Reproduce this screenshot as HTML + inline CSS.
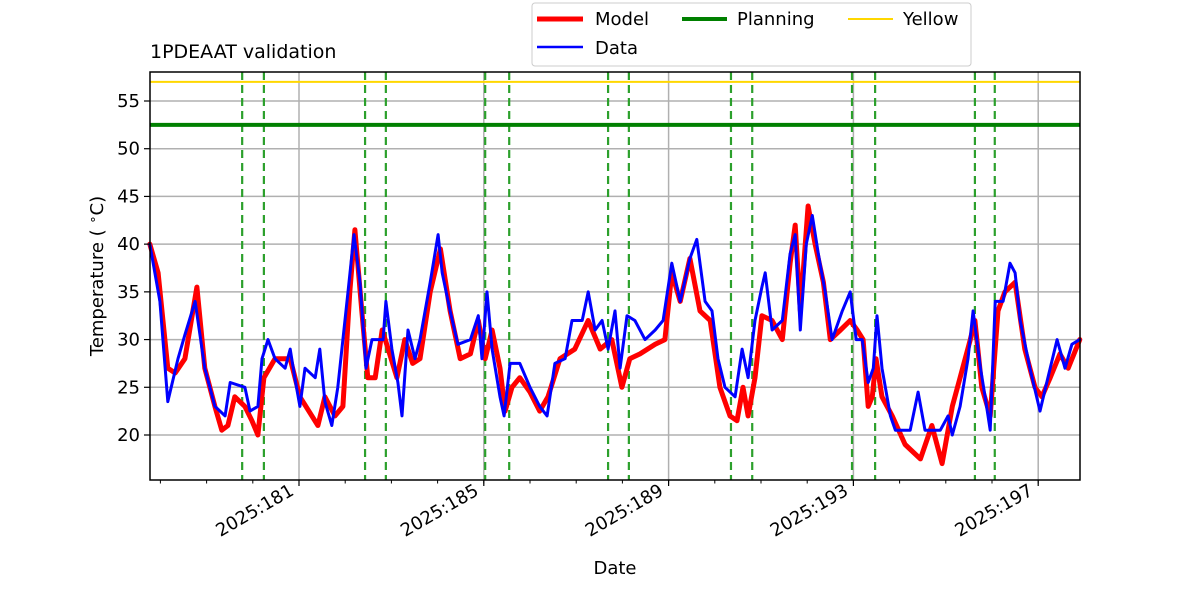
<!DOCTYPE html>
<html><head><meta charset="utf-8"><style>
body{margin:0;background:#fff;width:1200px;height:600px;overflow:hidden;font-family:"Liberation Sans",sans-serif}
svg text{font-family:"DejaVu Sans","Liberation Sans",sans-serif}
</style></head><body>
<svg id="chart" width="1200" height="600" xmlns="http://www.w3.org/2000/svg">
<g id="grid"></g>
<g id="vlines"></g>
<g id="series"></g>
<rect x="150" y="72" width="930" height="408" fill="none" stroke="#000" stroke-width="1.5"/>
<g id="axes"></g>
<text x="150" y="58" font-size="19">1PDEAAT validation</text>
<text x="615" y="574" font-size="18" text-anchor="middle">Date</text>
<text transform="translate(103,276) rotate(-90)" font-size="18" text-anchor="middle">Temperature ( <tspan dy="-6" font-size="13">∘</tspan><tspan dy="6">C)</tspan></text>
<g>
<rect x="532" y="3" width="439" height="63" rx="3" fill="#fff" stroke="#ccc"/>
<g><line x1="537" y1="19" x2="583" y2="19" stroke="red" stroke-width="5"/><text x="595" y="25" font-size="18">Model</text></g>
<g><line x1="682" y1="19" x2="727" y2="19" stroke="green" stroke-width="4"/><text x="737" y="25" font-size="18">Planning</text></g>
<g><line x1="848" y1="19" x2="893" y2="19" stroke="gold" stroke-width="2"/><text x="903" y="25" font-size="18">Yellow</text></g>
<g><line x1="537" y1="47" x2="583" y2="47" stroke="blue" stroke-width="2.5"/><text x="595" y="54" font-size="18">Data</text></g>
</g>
</svg>
<script>
const yTicks=[20,25,30,35,40,45,50,55];
const xTicks=[181,185,189,193,197];
const xTickLabels=["2025:181","2025:185","2025:189","2025:193","2025:197"];
const planningLevel=52.5;
const yellowLevel=57;
const passLines=[179.77,180.24,182.43,182.88,185.03,185.55,187.69,188.14,190.35,190.81,192.97,193.47,195.63,196.06];
const modelDays=[177.77,177.95,178.16,178.32,178.53,178.79,178.96,179.18,179.33,179.46,179.61,179.83,179.98,180.11,180.24,180.48,180.81,181.02,181.28,181.41,181.56,181.78,181.95,182.10,182.21,182.36,182.49,182.65,182.80,182.93,183.12,183.29,183.46,183.62,183.84,184.06,184.27,184.49,184.71,184.88,185.03,185.18,185.35,185.46,185.61,185.78,186.00,186.21,186.39,186.65,186.97,187.26,187.52,187.77,187.99,188.16,188.38,188.71,188.92,189.07,189.25,189.46,189.68,189.90,190.11,190.33,190.48,190.61,190.72,190.87,191.02,191.24,191.46,191.63,191.74,191.85,192.02,192.17,192.35,192.50,192.72,192.93,193.08,193.21,193.32,193.41,193.49,193.62,193.84,194.12,194.45,194.70,194.92,195.14,195.31,195.53,195.63,195.78,195.96,196.13,196.28,196.50,196.71,196.93,197.08,197.26,197.47,197.65,197.90];
const modelTemps=[40,37,27,26.5,28,35.5,27,23,20.5,21,24,23,21.5,20,26,28,28,24,22,21,24,22,23,35,41.5,33,26,26,31,29,26,30,27.5,28,35,39.5,33,28,28.5,32,28,31,27,22.5,25,26,24.5,22.5,24,28,29,32,29,30,25,28,28.5,29.5,30,37,34,38.5,33,32,25,22,21.5,25,22,26,32.5,32,30,38,42,33,44,40,36,30,31,32,31,30,23,24,28,24,22,19,17.5,21,17,23,26,30,32,25,22,33,35,36,29,25,24,26,28.5,27,30];
const dataDays=[177.77,177.99,178.16,178.38,178.53,178.75,178.96,179.18,179.40,179.51,179.83,179.94,180.11,180.20,180.33,180.48,180.70,180.81,180.91,181.02,181.13,181.35,181.45,181.56,181.71,181.84,182.06,182.19,182.32,182.45,182.58,182.82,182.88,183.01,183.14,183.23,183.36,183.51,183.62,183.84,184.01,184.10,184.27,184.44,184.71,184.88,184.96,185.07,185.18,185.35,185.44,185.57,185.78,186.00,186.21,186.37,186.54,186.76,186.91,187.13,187.26,187.41,187.56,187.69,187.84,187.95,188.10,188.27,188.49,188.71,188.88,189.07,189.25,189.46,189.61,189.79,189.94,190.07,190.22,190.44,190.59,190.72,190.87,191.02,191.09,191.24,191.46,191.63,191.74,191.85,191.98,192.11,192.24,192.39,192.54,192.76,192.93,193.06,193.19,193.32,193.43,193.51,193.62,193.80,193.91,194.23,194.40,194.55,194.88,195.05,195.14,195.31,195.48,195.59,195.75,195.85,195.96,196.07,196.24,196.39,196.50,196.61,196.82,197.04,197.21,197.41,197.58,197.73,197.90];
const dataTemps=[40,34,23.5,28,30.5,34,27,23,22,25.5,25,22.5,23,28,30,28,27,29,26,23,27,26,29,23.5,21,25,35,41,36,27,30,30,34,29,25.5,22,31,28,30,36,41,37,33,29.5,30,32.5,28,35,29,24,22,27.5,27.5,25,23,22,27.5,28,32,32,35,31,32,29,33,27,32.5,32,30,31,32,38,34,38.5,40.5,34,33,28,25,24,29,26,32,35.5,37,31,32,39,41,31,40,43,39,35,30,33,35,30,30,25.5,27,32.5,27,22,20.5,20.5,24.5,20.5,20.5,22,20,23,28,33,27,24,20.5,34,34,38,37,32,27,22.5,26,30,27,29.5,30];
const NS="http://www.w3.org/2000/svg";
const L=150,R=1080,T=72,B=480;
const xs=d=>299+(d-181)*46.2;
const ys=v=>435-(v-20)*(334/35);
function mk(tag,attrs,parent){const e=document.createElementNS(NS,tag);for(const k in attrs)e.setAttribute(k,attrs[k]);parent.appendChild(e);return e;}
const grid=document.getElementById('grid'),axes=document.getElementById('axes'),vl=document.getElementById('vlines'),ser=document.getElementById('series');
yTicks.forEach(v=>{const y=ys(v);
 const g=mk('line',{x1:L,x2:R,y1:y,y2:y,stroke:'#b0b0b0','stroke-width':1.5},grid);
 
 
 mk('line',{x1:L-6,x2:L,y1:y,y2:y,stroke:'#000','stroke-width':1.2},axes);
 const t=mk('text',{x:L-10,y:y+6,'font-size':18,'text-anchor':'end'},axes);t.textContent=v;
 
 
});
for(let d=178;d<=197;d++){const x=xs(d);mk('line',{x1:x,x2:x,y1:B,y2:B+3.5,stroke:'#000','stroke-width':1},axes);}
xTicks.forEach((d,i)=>{const x=xs(d);
 const g=mk('line',{x1:x,x2:x,y1:T,y2:B,stroke:'#b0b0b0','stroke-width':1.5},grid);
 
 
 mk('line',{x1:x,x2:x,y1:B,y2:B+6,stroke:'#000','stroke-width':1.2},axes);
 const t=mk('text',{transform:`translate(${x-4},${B+14}) rotate(-30)`,'font-size':18,'text-anchor':'end'},axes);t.textContent=xTickLabels[i];
 
 
});
passLines.forEach(d=>{const x=xs(d);
 const l=mk('line',{x1:x,x2:x,y1:T,y2:B,stroke:'#2ca02c','stroke-width':2.2,'stroke-dasharray':'8,5'},vl);
 
 
});
const yl=mk('line',{x1:L,x2:R,y1:ys(yellowLevel),y2:ys(yellowLevel),stroke:'gold','stroke-width':2},ser);


const pl=mk('line',{x1:L,x2:R,y1:ys(planningLevel),y2:ys(planningLevel),stroke:'green','stroke-width':4},ser);


function path(days,vals){return days.map((d,i)=>(i?'L':'M')+xs(d).toFixed(1)+','+ys(vals[i]).toFixed(1)).join('');}
const mp=mk('path',{d:path(modelDays,modelTemps),fill:'none',stroke:'red','stroke-width':5,'stroke-linejoin':'round','stroke-linecap':'round'},ser);


const dp=mk('path',{d:path(dataDays,dataTemps),fill:'none',stroke:'blue','stroke-width':3,'stroke-linejoin':'round','stroke-linecap':'round'},ser);


</script>
</body></html>
